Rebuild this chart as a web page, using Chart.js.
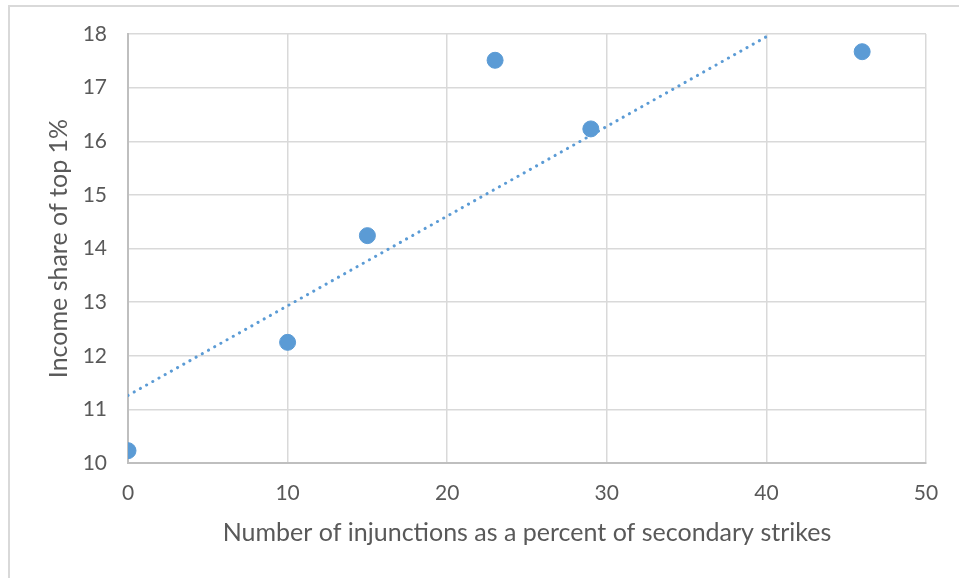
<!DOCTYPE html>
<html>
<head>
<meta charset="utf-8">
<script src="https://cdn.jsdelivr.net/npm/chart.js@4"></script>
<style>
  html, body { margin:0; padding:0; background:#fff; overflow:hidden; }
  #frame { position:absolute; left:8px; top:5px; width:1000px; height:600px;
           border-left:2px solid #d9d9d9; border-top:2px solid #d9d9d9; }
  #wrap { position:absolute; left:0; top:0; width:959px; height:578px; }
</style>
</head>
<body>
<div id="frame"></div>
<div id="wrap"><canvas id="chart" width="959" height="578"></canvas></div>
<script>
// injunctions as % of secondary strikes vs income share of top 1%
const injunctionPct = [0, 10, 15, 23, 29, 46];
const topShare = [10.23, 12.25, 14.24, 17.51, 16.23, 17.67];

// linear trendline ends
const trendX = [0, 40.3];
const trendY = [11.26, 18.0];

const blue = "#5b9bd5";
const grey = "#595959";
const fontFamily = "Lato, 'Open Sans', sans-serif";

const chart = new Chart(
  document.getElementById("chart"),
  {
    type:"scatter",
    data:{
      datasets:[
        {
          label:"Income share",
          data:injunctionPct.map((x,i) => ({x:x, y:topShare[i]})),
          backgroundColor:blue,
          borderColor:blue,
          pointRadius:8,
          pointHoverRadius:8,
          order:1
        },
        {
          label:"Linear trend",
          type:"line",
          data:trendX.map((x,i) => ({x:x, y:trendY[i]})),
          borderColor:blue,
          borderWidth:3,
          borderDash:[0.1, 7],
          borderCapStyle:"round",
          pointRadius:0,
          fill:false,
          order:0
        }
      ]
    },
    options:{
      responsive:false,
      animation:false,
      layout:{ padding:{ left:0, top:34, right:33, bottom:0 } },
      plugins:{ legend:{display:false}, tooltip:{enabled:false} },
      scales:{
        x:{
          type:"linear",
          min:0, max:50,
          ticks:{ stepSize:10, color:grey, padding:18,
                  font:{ family:fontFamily, size:21 } },
          grid:{ color:"#d9d9d9", lineWidth:1.5, drawTicks:false },
          border:{ color:"#bfbfbf", width:2 },
          title:{
            display:true,
            text:"Number of injunctions as a percent of secondary strikes",
            color:grey,
            font:{ family:fontFamily, size:25 },
            padding:{ top:0, bottom:30 }
          },
          afterFit: s => { s.height = 115; }
        },
        y:{
          min:10, max:18,
          ticks:{ stepSize:1, color:grey, padding:21,
                  font:{ family:fontFamily, size:21 } },
          grid:{ color:"#d9d9d9", lineWidth:1.5, drawTicks:false },
          border:{ color:"#bfbfbf", width:2 },
          title:{
            display:true,
            text:"Income share of top 1%",
            color:grey,
            font:{ family:fontFamily, size:25 },
            padding:{ top:44, bottom:0 }
          },
          afterFit: s => { s.width = 128; }
        }
      }
    }
  }
);
</script>
</body>
</html>
